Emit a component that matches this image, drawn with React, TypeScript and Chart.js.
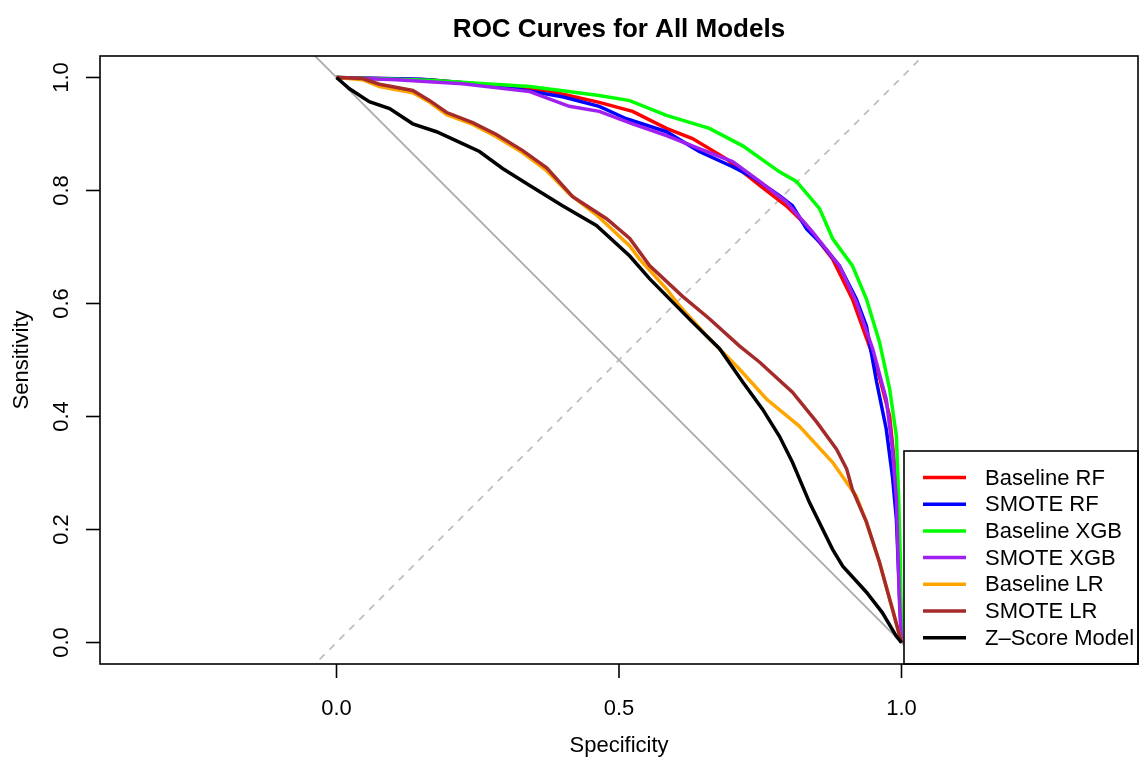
import React, { useEffect, useRef } from "react";
import { Chart, registerables } from "chart.js";

Chart.register(...registerables);

const FONT = '"Liberation Sans", Arial, Helvetica, sans-serif';

// Specificity (x) and sensitivity (y) for each model's ROC curve
const specBaselineRF = [0, 0.165, 0.372, 0.465, 0.524, 0.584, 0.63, 0.69, 0.749, 0.796, 0.832, 0.878, 0.913, 0.956, 0.979, 0.988, 0.995, 1];
const sensBaselineRF = [1, 0.996, 0.977, 0.956, 0.94, 0.91, 0.892, 0.856, 0.809, 0.773, 0.738, 0.679, 0.608, 0.489, 0.401, 0.312, 0.2, 0];

const specSmoteRF = [0, 0.15, 0.283, 0.4, 0.465, 0.513, 0.584, 0.642, 0.701, 0.736, 0.784, 0.807, 0.832, 0.855, 0.89, 0.92, 0.938, 0.956, 0.973, 0.984, 0.991, 1];
const sensSmoteRF = [1, 0.997, 0.986, 0.966, 0.949, 0.927, 0.904, 0.869, 0.842, 0.824, 0.791, 0.773, 0.732, 0.709, 0.667, 0.608, 0.56, 0.461, 0.378, 0.294, 0.218, 0];

const specBaselineXGB = [0, 0.165, 0.342, 0.465, 0.519, 0.584, 0.66, 0.719, 0.784, 0.814, 0.855, 0.878, 0.913, 0.938, 0.961, 0.979, 0.991, 0.995, 0.998, 1];
const sensBaselineXGB = [1, 0.995, 0.984, 0.968, 0.959, 0.933, 0.91, 0.879, 0.833, 0.816, 0.768, 0.715, 0.667, 0.608, 0.532, 0.449, 0.365, 0.254, 0.147, 0];

const specSmoteXGB = [0, 0.106, 0.223, 0.342, 0.412, 0.465, 0.524, 0.584, 0.642, 0.701, 0.749, 0.796, 0.842, 0.89, 0.92, 0.949, 0.973, 0.984, 0.991, 0.996, 1];
const sensSmoteXGB = [1, 0.996, 0.989, 0.975, 0.949, 0.94, 0.918, 0.897, 0.874, 0.851, 0.816, 0.78, 0.727, 0.667, 0.603, 0.52, 0.431, 0.342, 0.254, 0.082, 0];

const specBaselineLR = [0, 0.046, 0.076, 0.135, 0.165, 0.195, 0.241, 0.283, 0.329, 0.372, 0.412, 0.46, 0.519, 0.536, 0.584, 0.607, 0.655, 0.713, 0.761, 0.819, 0.878, 0.92, 0.938, 0.961, 0.984, 1];
const sensBaselineLR = [1, 0.996, 0.984, 0.973, 0.956, 0.934, 0.917, 0.895, 0.867, 0.835, 0.794, 0.757, 0.702, 0.679, 0.626, 0.596, 0.543, 0.484, 0.431, 0.383, 0.319, 0.259, 0.213, 0.142, 0.059, 0];

const specSmoteLR = [0, 0.046, 0.076, 0.135, 0.165, 0.195, 0.241, 0.283, 0.329, 0.372, 0.418, 0.478, 0.519, 0.554, 0.612, 0.66, 0.713, 0.749, 0.807, 0.85, 0.885, 0.903, 0.913, 0.938, 0.961, 0.984, 1];
const sensSmoteLR = [1, 0.998, 0.988, 0.977, 0.959, 0.938, 0.92, 0.899, 0.871, 0.84, 0.789, 0.75, 0.715, 0.667, 0.613, 0.573, 0.525, 0.496, 0.443, 0.39, 0.342, 0.307, 0.271, 0.213, 0.142, 0.059, 0];

const specZScore = [0, 0.023, 0.058, 0.094, 0.135, 0.177, 0.223, 0.253, 0.294, 0.342, 0.4, 0.46, 0.519, 0.554, 0.63, 0.678, 0.719, 0.754, 0.784, 0.807, 0.837, 0.878, 0.896, 0.938, 0.966, 0.991, 1];
const sensZScore = [1, 0.98, 0.957, 0.945, 0.918, 0.904, 0.883, 0.869, 0.839, 0.809, 0.773, 0.738, 0.684, 0.644, 0.567, 0.52, 0.461, 0.413, 0.365, 0.319, 0.248, 0.165, 0.135, 0.089, 0.053, 0.011, 0];

const modelNames = ["Baseline RF", "SMOTE RF", "Baseline XGB", "SMOTE XGB", "Baseline LR", "SMOTE LR", "Z\u2013Score Model"];
const modelColors = ["#FF0000", "#0000FF", "#00FF00", "#A020F0", "#FFA500", "#A52A2A", "#000000"];
const modelSpec = [specBaselineRF, specSmoteRF, specBaselineXGB, specSmoteXGB, specBaselineLR, specSmoteLR, specZScore];
const modelSens = [sensBaselineRF, sensSmoteRF, sensBaselineXGB, sensSmoteXGB, sensBaselineLR, sensSmoteLR, sensZScore];

const xTicks = [0, 0.5, 1];
const yTicks = [0, 0.2, 0.4, 0.6, 0.8, 1];

const X_MIN = -0.4186;
const X_MAX = 1.4186;
const Y_MIN = -0.038;
const Y_MAX = 1.038;

const pts = (xs: number[], ys: number[]) => xs.map((x, i) => ({ x, y: ys[i] }));

// Box, axes, titles and legend drawn in base-graphics style
const framePlugin = {
  id: "rFrame",
  afterDatasetsDraw(chart: any) {
    const { ctx, chartArea: a, scales } = chart;
    const xs = scales.x;
    const ys = scales.y;
    ctx.save();

    // legend (bottom right of the plot region)
    const lw = 234;
    const lh = 213;
    const lx = a.right - lw;
    const ly = a.bottom - lh;
    ctx.fillStyle = "#fff";
    ctx.fillRect(lx, ly, lw, lh);
    ctx.strokeStyle = "#000";
    ctx.lineWidth = 1.6;
    ctx.strokeRect(lx, ly, lw, lh);
    ctx.font = `22px ${FONT}`;
    ctx.textBaseline = "middle";
    ctx.textAlign = "left";
    modelNames.forEach((name, i) => {
      const cy = ly + 26.5 + i * 26.7;
      ctx.strokeStyle = modelColors[i];
      ctx.lineWidth = 3.5;
      ctx.beginPath();
      ctx.moveTo(lx + 19, cy);
      ctx.lineTo(lx + 62, cy);
      ctx.stroke();
      ctx.fillStyle = "#000";
      ctx.fillText(name, lx + 81, cy + 1);
    });

    // plot box
    ctx.strokeStyle = "#000";
    ctx.lineWidth = 1.6;
    ctx.strokeRect(a.left, a.top, a.right - a.left, a.bottom - a.top);

    // x axis ticks and labels
    ctx.fillStyle = "#000";
    ctx.font = `22px ${FONT}`;
    ctx.textAlign = "center";
    ctx.textBaseline = "alphabetic";
    xTicks.forEach((v) => {
      const px = xs.getPixelForValue(v);
      ctx.beginPath();
      ctx.moveTo(px, a.bottom);
      ctx.lineTo(px, a.bottom + 14);
      ctx.stroke();
      ctx.fillText(v.toFixed(1), px, 715);
    });

    // y axis ticks and rotated labels
    yTicks.forEach((v) => {
      const py = ys.getPixelForValue(v);
      ctx.beginPath();
      ctx.moveTo(a.left, py);
      ctx.lineTo(a.left - 14, py);
      ctx.stroke();
      ctx.save();
      ctx.translate(68, py);
      ctx.rotate(-Math.PI / 2);
      ctx.fillText(v.toFixed(1), 0, 0);
      ctx.restore();
    });

    // axis titles
    ctx.fillText("Specificity", (a.left + a.right) / 2, 752);
    ctx.save();
    ctx.translate(28, (a.top + a.bottom) / 2);
    ctx.rotate(-Math.PI / 2);
    ctx.fillText("Sensitivity", 0, 0);
    ctx.restore();

    // main title
    ctx.font = `bold 26px ${FONT}`;
    ctx.fillText("ROC Curves for All Models", (a.left + a.right) / 2, 37);

    ctx.restore();
  },
};

export default function App() {
  const canvasRef = useRef<HTMLCanvasElement>(null);

  useEffect(() => {
    const canvas = canvasRef.current;
    if (!canvas) return;

    const n = modelNames.length;
    const curveSets = modelNames.map((name, i) => ({
      label: name,
      data: pts(modelSpec[i], modelSens[i]),
      borderColor: modelColors[i],
      backgroundColor: modelColors[i],
      borderWidth: 3.5,
      pointRadius: 0,
      showLine: true,
      tension: 0,
      order: n - i,
    }));

    const chart = new Chart(canvas, {
      type: "scatter",
      data: {
        datasets: [
          ...curveSets,
          {
            label: "chance",
            data: [{ x: -0.1, y: 1.1 }, { x: 1.1, y: -0.1 }],
            borderColor: "#AAAAAA",
            borderWidth: 1.8,
            pointRadius: 0,
            showLine: true,
            order: 20,
          },
          {
            label: "identity",
            data: [{ x: -0.1, y: -0.1 }, { x: 1.1, y: 1.1 }],
            borderColor: "#BEBEBE",
            borderWidth: 1.8,
            borderDash: [7, 7],
            pointRadius: 0,
            showLine: true,
            order: 21,
          },
        ],
      },
      options: {
        responsive: false,
        animation: false,
        devicePixelRatio: 1,
        layout: { padding: { left: 100, right: 2, top: 56, bottom: 94 } },
        plugins: {
          legend: { display: false },
          tooltip: { enabled: false },
          title: { display: false },
        },
        scales: {
          x: { type: "linear", min: X_MIN, max: X_MAX, display: false },
          y: { type: "linear", min: Y_MIN, max: Y_MAX, display: false },
        },
      },
      plugins: [framePlugin],
    });

    return () => chart.destroy();
  }, []);

  return (
    <div style={{ position: "fixed", left: 0, top: 0, width: 1140, height: 758, background: "#fff" }}>
      <canvas ref={canvasRef} width={1140} height={758} style={{ display: "block" }} />
    </div>
  );
}
